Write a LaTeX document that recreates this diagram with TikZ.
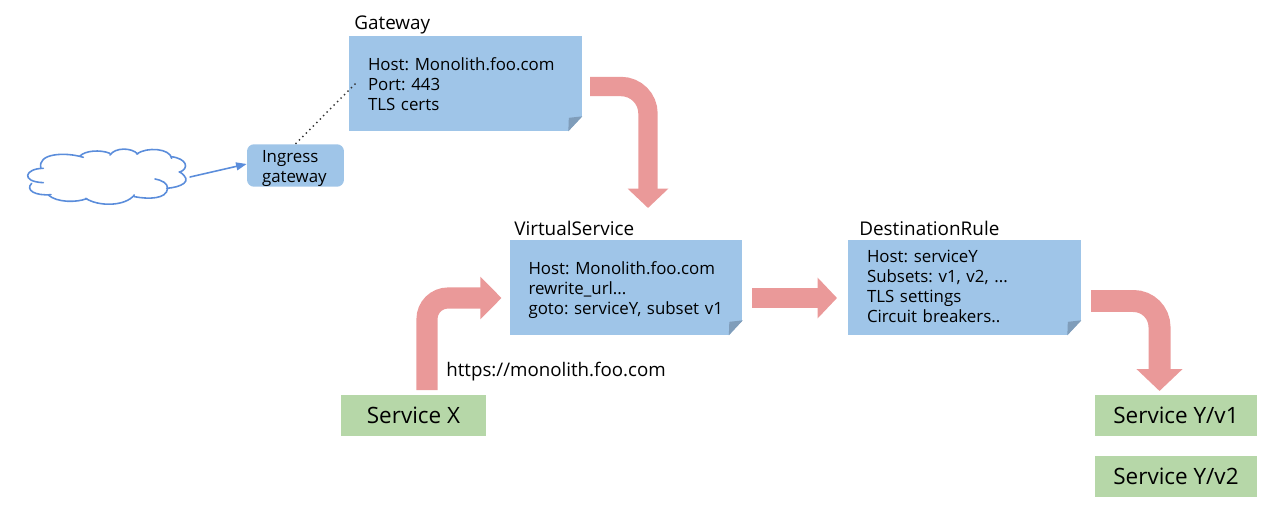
\documentclass[tikz,border=0pt]{standalone}
\usepackage{fontspec}
\setmainfont{Open Sans}
\frenchspacing
\usetikzlibrary{arrows.meta}
\definecolor{noteblue}{HTML}{9FC5E8}
\definecolor{foldblue}{HTML}{7F9DBA}
\definecolor{flowred}{HTML}{EA9999}
\definecolor{svcgreen}{HTML}{B6D7A8}
\definecolor{cloudblue}{HTML}{5B8DDB}
\tikzset{
        note/.style={fill=noteblue, inner xsep=0.38cm, inner ysep=0, text width=3.9cm, minimum height=1.9cm, align=left, font=\fontsize{9.6}{11.34}\selectfont},
        title/.style={anchor=base west, inner sep=0, font=\fontsize{10.75}{13}\selectfont},
        service/.style={fill=svcgreen, minimum height=0.82cm, inner sep=0, font=\fontsize{12.8}{15}\selectfont},
        flow/.style={draw=flowred, line width=11pt, -{Triangle[width=22.5pt, length=11pt]}},
        wisp/.style={draw=cloudblue, line width=0.9pt, line cap=round}
}
\newcommand{\foldcorner}[1]{
        \fill[white] (#1.south east) ++(-14,0) -- ++(14,-15) -- ++(1,0) -- ++(0,16) -- ++(-15,0) -- cycle;
        \fill[foldblue] (#1.south east) ++(-14,0) -- ++(0.5,-13.5) -- ++(13.5,-1.5) -- cycle;
}

\begin{document}
\begin{tikzpicture}[x=0.02cm, y=-0.02cm]
        \useasboundingbox (0, 0) rectangle (1280, 527);

        \node[note, text height=8.4pt] (gateway) at (465.5, 83.5) {Host: Monolith.foo.com\\Port: 443\\TLS certs};
        \node[note, text height=10.5pt] (virtual) at (626, 287.5) {Host: Monolith.foo.com\\rewrite\_url...\\goto: serviceY, subset v1};
        \node[note, text depth=35.5pt] (destination) at (964.5, 287.5) {Host: serviceY\\Subsets: v1, v2, ...\\TLS settings\\Circuit breakers..};
        \foldcorner{gateway}
        \foldcorner{virtual}
        \foldcorner{destination}

        \node[title] (gatewaytitle) at (354, 29.5) {Gateway};
        \node[title] (virtualtitle) at (514, 235) {VirtualService};
        \node[title] (destinationtitle) at (859, 235) {DestinationRule};

        \node[fill=noteblue, rounded corners=0.14cm, minimum width=1.94cm, minimum height=0.82cm, inner xsep=0.3cm, inner ysep=0, text width=1.34cm, text height=10.5pt, align=left, font=\fontsize{9.6}{11.34}\selectfont] (ingress) at (295.5, 165.5) {Ingress\\gateway};

        \node[service, minimum width=2.9cm] (servicex) at (413.5, 415.5) {Service X};
        \node[service, minimum width=3.24cm] (servicey1) at (1176, 415.5) {Service Y/v1};
        \node[service, minimum width=3.24cm] (servicey2) at (1176, 476.5) {Service Y/v2};
        \node[anchor=base west, inner sep=0, font=\fontsize{10.65}{13}\selectfont] (url) at (446, 376) {https://monolith.foo.com};

        \coordinate (gatewayout) at (590, 86.5);
        \coordinate (virtualin) at (648, 208);
        \coordinate (servicexout) at (427, 390);
        \coordinate (virtualside) at (501.5, 298);
        \coordinate (virtualout) at (752, 298);
        \coordinate (destinationin) at (837, 298);
        \coordinate (destinationout) at (1091, 301);
        \coordinate (serviceyin) at (1159.5, 391);

        \draw[flow, rounded corners=0.54cm] (gatewayout) -| (virtualin);
        \draw[flow, line width=12pt, -{Triangle[width=23.5pt, length=12pt]}, rounded corners=0.42cm] (servicexout) |- (virtualside);
        \draw[flow, line width=11.3pt] (virtualout) -- (destinationin);
        \draw[flow, line width=12.5pt, -{Triangle[width=25.5pt, length=12.5pt]}, rounded corners=0.52cm] (destinationout) -| (serviceyin);

        \coordinate (cloudout) at (190, 177);
        \coordinate (gatewaypoint) at (356, 83);
        \draw[wisp, -{Triangle[length=6pt, width=4.5pt]}] (cloudout) -- (ingress.west |- 0, 164);
        \draw[dotted, line width=0.8pt, black!80] (ingress.north) -- (gatewaypoint);

        \begin{scope}[shift={(15, 140)}, x=0.00667cm, y=-0.00667cm]
                \draw[wisp] (85, 85) .. controls (30, 85) and (15, 125) .. (85, 128);
                \draw[wisp] (50, 130) .. controls (30, 150) and (60, 168) .. (108, 164);
                \draw[wisp] (100, 165) .. controls (125, 188) and (185, 188) .. (215, 176);
                \draw[wisp] (212, 175) .. controls (250, 200) and (330, 200) .. (358, 165);
                \draw[wisp] (358, 170) .. controls (400, 178) and (455, 178) .. (458, 145);
                \draw[wisp] (420, 117) .. controls (440, 120) and (458, 130) .. (458, 145);
                \draw[wisp] (455, 145) .. controls (495, 142) and (540, 125) .. (493, 95);
                \draw[wisp] (493, 97) .. controls (525, 85) and (515, 55) .. (468, 50);
                \draw[wisp] (470, 55) .. controls (465, 25) and (395, 20) .. (365, 42);
                \draw[wisp] (368, 42) .. controls (350, 22) and (300, 22) .. (285, 45);
                \draw[wisp] (285, 40) .. controls (255, 28) and (210, 32) .. (195, 48);
                \draw[wisp] (205, 52) .. controls (150, 35) and (65, 40) .. (78, 85);
        \end{scope}
\end{tikzpicture}
\end{document}
